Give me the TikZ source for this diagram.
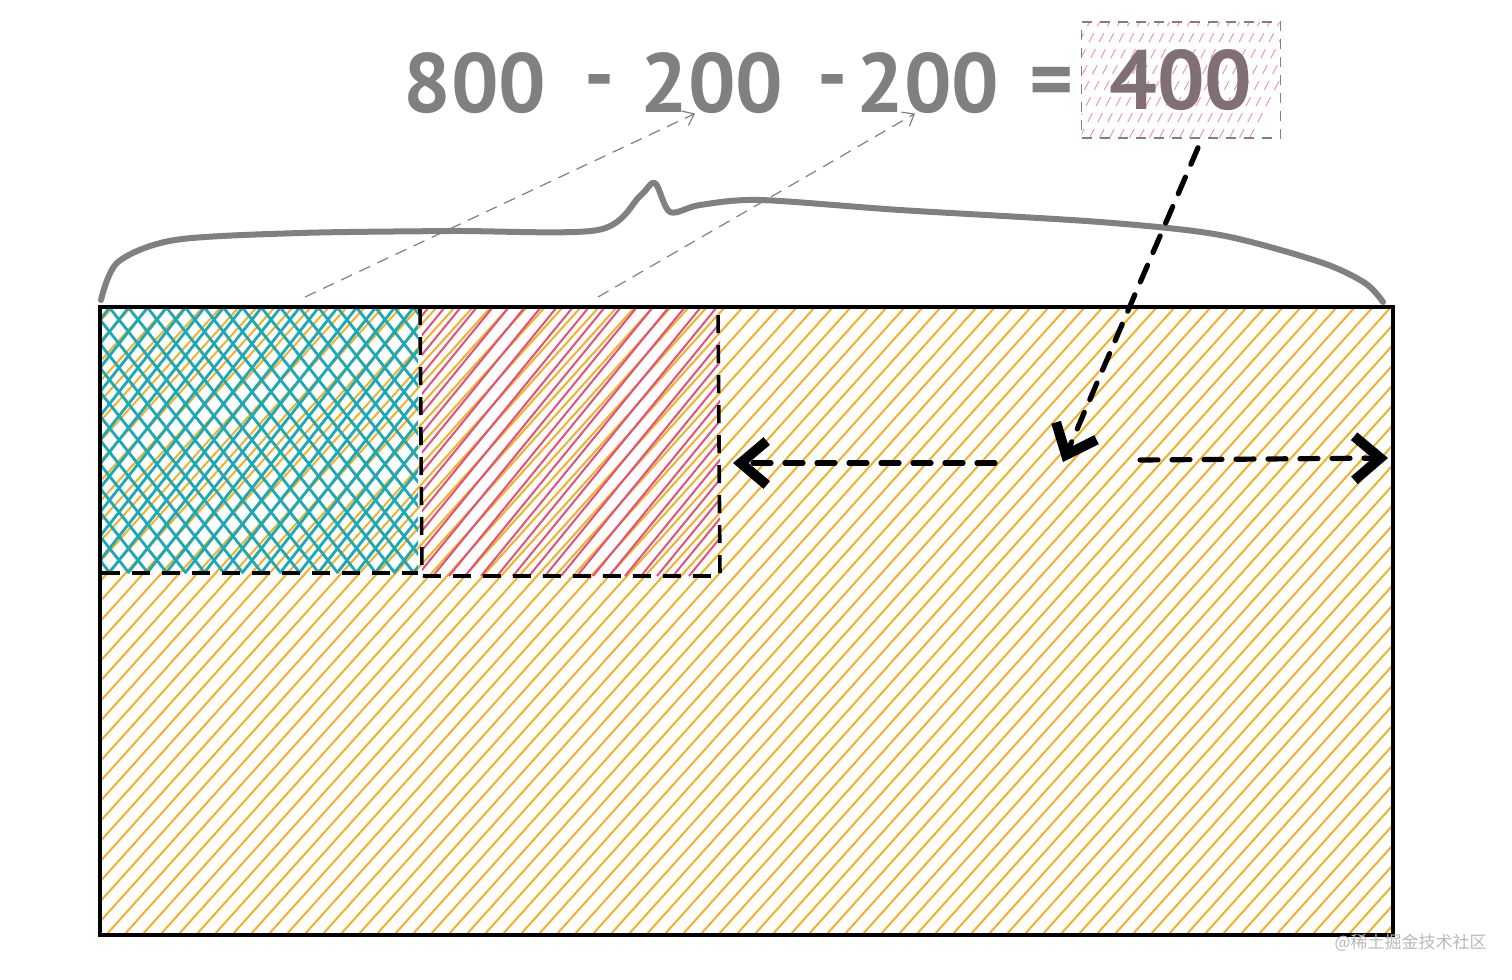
\documentclass[tikz,border=0pt]{standalone}
\usepackage{fontspec}
\usepackage{tikz}
\usetikzlibrary{arrows.meta}
\newfontfamily\handfont{PT Sans}
\newfontfamily\cjkfont{Noto Sans CJK SC}

\begin{document}
\begin{tikzpicture}[x=0.5pt,y=-0.5pt,
  sum/.style={font=\handfont\bfseries\fontsize{42}{42}\selectfont,text=cgray,anchor=base,inner sep=0pt},
  hatch/.style={line width=1pt},
  cut/.style={black,line width=1.8pt,dash pattern=on 9pt off 6pt},
  move/.style={black,line width=2.6pt,line cap=round,dash pattern=on 9pt off 7pt,-{Straight Barb[length=13pt,width=22pt,line width=5pt]}},
  hint/.style={cgray,line width=0.6pt,dash pattern=on 6pt off 4pt,-{Straight Barb[length=5pt,width=8pt]}}]
  \definecolor{cgray}{RGB}{128,128,128}
  \definecolor{cfour}{RGB}{128,112,118}
  \definecolor{corange}{RGB}{240,178,40}
  \definecolor{cteal}{RGB}{28,168,180}
  \definecolor{cpink}{RGB}{228,80,125}
  \useasboundingbox (0,0) rectangle (1512,980);
  \begin{scope}
    \clip (100,307) rectangle (1393,935);
    \foreach \i in {0,...,105}{%
      \draw[corange,hatch] ({\i*18-470},935) -- ++(565,-628);
    }
  \end{scope}
  \begin{scope}
    \clip (102,307) rectangle (418,573);
    \foreach \i in {0,...,28}{%
      \draw[cteal,line width=1.4pt] ({\i*19-100},573) -- ++(210,-266);
      \draw[cteal,line width=1.4pt] ({\i*19-100},307) -- ++(210,266);
    }
  \end{scope}
  \begin{scope}
    \clip (422,307) rectangle (720,576);
    \foreach \i in {0,...,30}{%
      \draw[cpink,hatch] ({\i*16+209},576) -- ++(220,-269);
    }
  \end{scope}
  \draw[cut] (102,573) -- (418,573);
  \draw[cut] (420,307) -- (422,576) -- (720,576) -- (718,307);
  \draw[black,line width=2pt] (100,307) rectangle (1393,935);
  \draw[cgray,line width=3pt,line join=round,line cap=round] plot[smooth,tension=0.5] coordinates {(101,300) (118,262) (175,240) (300,233) (450,231) (598,230) (640,196) (655,183) (670,212) (700,205) (760,200) (900,210) (1100,222) (1220,235) (1320,262) (1365,283) (1383,302)};
  \node[sum] (n800) at (475,112) {800};
  \node[sum] (minusa) at (600,103) {-};
  \node[sum] (n200a) at (712,112) {200};
  \node[sum] (minusb) at (833,103) {-};
  \node[sum] (n200b) at (928,112) {200};
  \node[sum] (eq) at (1052,108) {=};
  \node[sum,anchor=center,text=cfour,draw=cgray,line width=0.75pt,dash pattern=on 5pt off 4pt,
    minimum width=99.5pt,minimum height=58pt,
    path picture={
      \foreach \k in {0,...,24}{%
        \draw[cpink!60,line width=0.5pt] ([xshift={\k*5pt-36pt}]path picture bounding box.south west) -- ++(60,-116);
      }
    }] (n400) at (1181,80) {400};
  \coordinate (tealtop) at (305,297);
  \coordinate (pinktop) at (598,297);
  \draw[hint] (tealtop) -- ([xshift=-8.5pt]n200a.south);
  \draw[hint] (pinktop) -- ([xshift=-6.5pt]n200b.south);
  \coordinate (drop) at (1063,462);
  \coordinate (leftstart) at (995,463);
  \coordinate (leftend) at (733,463);
  \coordinate (rightstart) at (1140,460);
  \coordinate (rightend) at (1388,458);
  \draw[move] ([xshift=8.5pt,yshift=-4.5pt]n400.south) -- (drop);
  \draw[move] (leftstart) -- (leftend);
  \draw[move] (rightstart) -- (rightend);
  \node[font=\cjkfont\fontsize{8.5}{8.5}\selectfont,text=gray!55,anchor=east,inner sep=0pt] (mark) at (1487,943) {@稀土掘金技术社区};
\end{tikzpicture}
\end{document}
